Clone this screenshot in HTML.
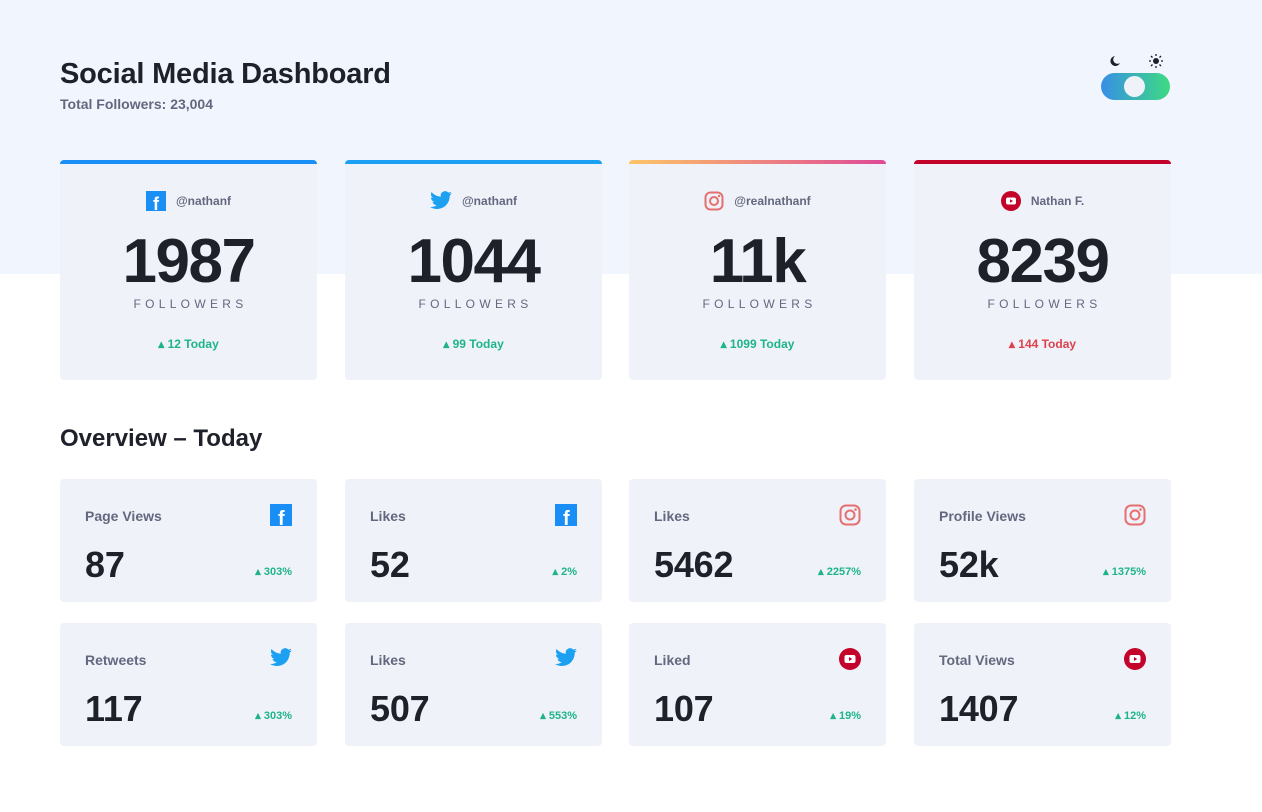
<!DOCTYPE html>
<html><head><meta charset="utf-8"><style>
*{box-sizing:border-box;margin:0;padding:0}
body{width:1262px;height:812px;background:#fff;font-family:"Liberation Sans",sans-serif;position:relative;overflow:hidden;color:#1e202a}
.top{position:absolute;left:0;top:0;width:1262px;height:274px;background:#f1f5fe}
.abs{position:absolute}
h1{position:absolute;left:60px;top:58px;font-size:29px;font-weight:700;letter-spacing:-0.2px}
.sub{position:absolute;left:60px;top:96px;font-size:14px;font-weight:700;color:#63687e}
.card{position:absolute;width:257px;height:220px;top:160px;background:#f0f2fa;border-radius:0 0 4px 4px;text-align:center}
.bar{height:4px;border-radius:4px 4px 0 0}
.handle{position:absolute;top:31px;left:0;width:100%;display:flex;justify-content:center;align-items:center;gap:10px;font-size:12px;font-weight:700;color:#63687e}
.big{position:absolute;top:66px;width:100%;font-size:62px;font-weight:700;letter-spacing:-1.5px}
.fl{position:absolute;top:137px;width:100%;font-size:12px;letter-spacing:4.3px;color:#63687e;padding-left:4px}
.today{position:absolute;top:177px;width:100%;font-size:12px;font-weight:700}
.up{color:#1db489}.down{color:#dc414c}
.ov{position:absolute;width:257px;height:123px;background:#f0f2fa;border-radius:4px}
.ov .t{position:absolute;left:25px;top:29px;font-size:14px;font-weight:700;color:#63687e}
.ov .ic{position:absolute;right:25px;top:25px}
.ov .n{position:absolute;left:25px;top:65px;font-size:36px;font-weight:700;letter-spacing:-0.2px}
.ov .p{position:absolute;right:25px;top:86px;font-size:11px;font-weight:700;color:#1db489}
h2{position:absolute;left:60px;top:425px;font-size:24px;font-weight:700}
</style></head><body>
<div class="top"></div>
<h1>Social Media Dashboard</h1>
<div class="sub">Total Followers: 23,004</div>
<div class="abs" style="left:1107px;top:54px"><svg width="14" height="14"><path d="M8 2a5 5 0 1 0 5 7 4 4 0 0 1-5-7z" fill="#1e202a"/></svg></div>
<div class="abs" style="left:1149px;top:54px"><svg width="14" height="14"><circle cx="7" cy="7" r="3" fill="#1e202a"/><g stroke="#1e202a" stroke-width="1.3"><line x1="7" y1="0" x2="7" y2="2"/><line x1="7" y1="12" x2="7" y2="14"/><line x1="0" y1="7" x2="2" y2="7"/><line x1="12" y1="7" x2="14" y2="7"/><line x1="2" y1="2" x2="3.5" y2="3.5"/><line x1="10.5" y1="10.5" x2="12" y2="12"/><line x1="2" y1="12" x2="3.5" y2="10.5"/><line x1="10.5" y1="3.5" x2="12" y2="2"/></g></svg></div>
<div class="abs" style="left:1101px;top:73px;width:69px;height:27px;border-radius:14px;background:linear-gradient(90deg,#378fe6,#3eda82)"><div style="position:absolute;left:23px;top:3px;width:21px;height:21px;border-radius:50%;background:#f0f2fa"></div></div>

<div class="card" style="left:60px"><div class="bar" style="background:#198ff5"></div><div class="handle"><svg width="20" height="20"><rect width="20" height="20" fill="#198ff5"/><text x="7" y="19" font-size="18" font-weight="700" fill="#fff" font-family="Liberation Sans">f</text></svg>@nathanf</div><div class="big">1987</div><div class="fl">FOLLOWERS</div><div class="today up">▴ 12 Today</div></div>
<div class="card" style="left:345px"><div class="bar" style="background:#1ca0f2"></div><div class="handle"><svg width="22" height="20" viewBox="0 0 24 22"><path id="bird" fill="#1ca0f2" d="M23.954 2.569a10 10 0 0 1-2.825.775 4.958 4.958 0 0 0 2.163-2.723c-.951.555-2.005.959-3.127 1.184a4.92 4.92 0 0 0-8.384 4.482C7.691 6.094 4.066 4.13 1.64 1.161a4.822 4.822 0 0 0-.666 2.475c0 1.71.87 3.213 2.188 4.096a4.904 4.904 0 0 1-2.228-.616v.061a4.923 4.923 0 0 0 3.946 4.827 4.996 4.996 0 0 1-2.212.085 4.937 4.937 0 0 0 4.604 3.417 9.868 9.868 0 0 1-6.102 2.105c-.39 0-.779-.023-1.17-.067a13.995 13.995 0 0 0 7.557 2.209c9.054 0 13.999-7.496 13.999-13.986 0-.209 0-.42-.015-.63a9.936 9.936 0 0 0 2.46-2.548z"/></svg>@nathanf</div><div class="big">1044</div><div class="fl">FOLLOWERS</div><div class="today up">▴ 99 Today</div></div>
<div class="card" style="left:629px"><div class="bar" style="background:linear-gradient(90deg,#fdc468,#df4996)"></div><div class="handle"><svg width="20" height="20"><rect x="1.5" y="1.5" width="17" height="17" rx="5" fill="none" stroke="#e5706f" stroke-width="2"/><circle cx="10" cy="10" r="4" fill="none" stroke="#e5706f" stroke-width="2"/><circle cx="15" cy="5" r="1.2" fill="#e5706f"/></svg>@realnathanf</div><div class="big">11k</div><div class="fl">FOLLOWERS</div><div class="today up">▴ 1099 Today</div></div>
<div class="card" style="left:914px"><div class="bar" style="background:#c4032b"></div><div class="handle"><svg width="20" height="20"><circle cx="10" cy="10" r="10" fill="#c4032b"/><rect x="5" y="6.5" width="10" height="7" rx="2" fill="#fff"/><path d="M9 8.2v3.6l3-1.8z" fill="#c4032b"/></svg>Nathan F.</div><div class="big">8239</div><div class="fl">FOLLOWERS</div><div class="today down">▴ 144 Today</div></div>

<h2>Overview – Today</h2>
<script>
const rows=[
['Page Views','fb','87','303%'],['Likes','fb','52','2%'],['Likes','ig','5462','2257%'],['Profile Views','ig','52k','1375%'],
['Retweets','tw','117','303%'],['Likes','tw','507','553%'],['Liked','yt','107','19%'],['Total Views','yt','1407','12%']];
const birdPath=document.getElementById('bird').getAttribute('d');
const icons={
fb:'<svg width="22" height="22"><rect width="22" height="22" fill="#198ff5"/><text x="8" y="21" font-size="20" font-weight="700" fill="#fff" font-family="Liberation Sans">f</text></svg>',
ig:'<svg width="22" height="22"><rect x="1.5" y="1.5" width="19" height="19" rx="5.5" fill="none" stroke="#e5706f" stroke-width="2"/><circle cx="11" cy="11" r="4.5" fill="none" stroke="#e5706f" stroke-width="2"/><circle cx="16.5" cy="5.5" r="1.3" fill="#e5706f"/></svg>',
tw:'<svg width="22" height="20" viewBox="0 0 24 22"><path fill="#1ca0f2" d="'+birdPath+'"/></svg>',
yt:'<svg width="22" height="22"><circle cx="11" cy="11" r="11" fill="#c4032b"/><rect x="5.5" y="7" width="11" height="8" rx="2" fill="#fff"/><path d="M10 9v4l3.3-2z" fill="#c4032b"/></svg>'};
const xs=[60,345,629,914],ys=[479,623];
rows.forEach((r,i)=>{
 const d=document.createElement('div');d.className='ov';
 d.style.left=xs[i%4]+'px';d.style.top=ys[Math.floor(i/4)]+'px';
 
 
 d.innerHTML='<div class="t">'+r[0]+'</div><div class="ic">'+icons[r[1]]+'</div><div class="n">'+r[2]+'</div><div class="p">▴ '+r[3]+'</div>';
 document.body.appendChild(d);
});
</script>
</body></html>
